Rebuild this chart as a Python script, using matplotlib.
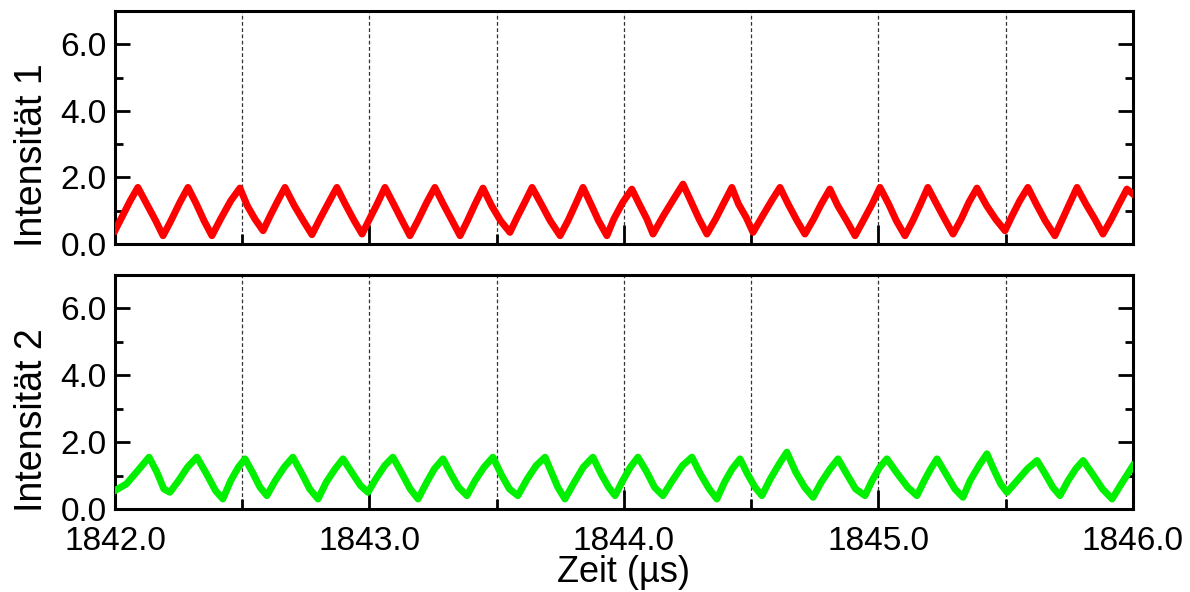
import numpy as np
import matplotlib
matplotlib.use("Agg")
from matplotlib import pyplot as plt
from matplotlib.ticker import MultipleLocator, FormatStrFormatter

plt.rcParams['font.family'] = ['Liberation Sans', 'DejaVu Sans']

# Zeitachse (µs) und Intensitäten
t_red = [
    1842.000, 1842.030, 1842.060, 1842.090, 1842.125, 1842.160, 1842.189,
    1842.220, 1842.255, 1842.287, 1842.320, 1842.350, 1842.381,
    1842.415, 1842.455, 1842.491, 1842.520, 1842.550, 1842.582,
    1842.610, 1842.640, 1842.668, 1842.705, 1842.740, 1842.774,
    1842.805, 1842.840, 1842.872, 1842.905, 1842.940, 1842.971,
    1843.000, 1843.030, 1843.061, 1843.095, 1843.125, 1843.159,
    1843.190, 1843.225, 1843.257, 1843.290, 1843.325, 1843.356,
    1843.385, 1843.415, 1843.446, 1843.480, 1843.515, 1843.552,
    1843.580, 1843.610, 1843.639, 1843.675, 1843.710, 1843.749,
    1843.780, 1843.810, 1843.839, 1843.870, 1843.900, 1843.933,
    1843.960, 1843.995, 1844.031, 1844.060, 1844.090, 1844.114,
    1844.155, 1844.195, 1844.232, 1844.265, 1844.295, 1844.326,
    1844.360, 1844.390, 1844.424, 1844.450, 1844.480, 1844.507,
    1844.545, 1844.580, 1844.613, 1844.645, 1844.680, 1844.711,
    1844.745, 1844.775, 1844.809, 1844.840, 1844.875, 1844.908,
    1844.940, 1844.975, 1845.006, 1845.040, 1845.070, 1845.104,
    1845.135, 1845.165, 1845.194, 1845.225, 1845.260, 1845.293,
    1845.325, 1845.355, 1845.387, 1845.425, 1845.460, 1845.497,
    1845.525, 1845.555, 1845.587, 1845.620, 1845.655, 1845.693,
    1845.720, 1845.750, 1845.780, 1845.815, 1845.850, 1845.882,
    1845.915, 1845.945, 1845.976, 1846.000]
i_red = [
    0.40, 0.85, 1.30, 1.70, 1.20, 0.70, 0.25,
    0.70, 1.25, 1.70, 1.20, 0.70, 0.25,
    0.75, 1.30, 1.68, 1.15, 0.75, 0.40,
    0.85, 1.30, 1.70, 1.15, 0.70, 0.28,
    0.75, 1.25, 1.70, 1.20, 0.70, 0.30,
    0.75, 1.20, 1.70, 1.20, 0.75, 0.25,
    0.70, 1.25, 1.70, 1.20, 0.70, 0.25,
    0.70, 1.20, 1.68, 1.15, 0.70, 0.35,
    0.80, 1.25, 1.70, 1.20, 0.70, 0.25,
    0.70, 1.20, 1.70, 1.20, 0.70, 0.25,
    0.75, 1.25, 1.65, 1.20, 0.75, 0.30,
    0.85, 1.35, 1.80, 1.25, 0.75, 0.30,
    0.75, 1.20, 1.70, 1.20, 0.80, 0.35,
    0.85, 1.30, 1.70, 1.20, 0.70, 0.30,
    0.75, 1.20, 1.65, 1.15, 0.70, 0.25,
    0.70, 1.20, 1.70, 1.20, 0.70, 0.25,
    0.70, 1.20, 1.70, 1.25, 0.75, 0.30,
    0.75, 1.25, 1.68, 1.15, 0.75, 0.40,
    0.85, 1.30, 1.70, 1.20, 0.70, 0.25,
    0.70, 1.20, 1.70, 1.20, 0.75, 0.30,
    0.75, 1.20, 1.65, 1.50]

t_green = [
    1842.000, 1842.045, 1842.090, 1842.134, 1842.165, 1842.192, 1842.216,
    1842.250, 1842.285, 1842.322, 1842.360, 1842.395, 1842.424,
    1842.455, 1842.485, 1842.511, 1842.540, 1842.570, 1842.597,
    1842.630, 1842.665, 1842.699, 1842.735, 1842.765, 1842.798,
    1842.830, 1842.865, 1842.896, 1842.930, 1842.965, 1842.994,
    1843.025, 1843.060, 1843.092, 1843.125, 1843.160, 1843.191,
    1843.225, 1843.255, 1843.289, 1843.320, 1843.350, 1843.383,
    1843.415, 1843.450, 1843.485, 1843.520, 1843.550, 1843.583,
    1843.620, 1843.655, 1843.690, 1843.715, 1843.740, 1843.768,
    1843.805, 1843.840, 1843.878, 1843.910, 1843.940, 1843.965,
    1843.995, 1844.025, 1844.055, 1844.090, 1844.120, 1844.153,
    1844.190, 1844.230, 1844.267, 1844.300, 1844.335, 1844.365,
    1844.395, 1844.425, 1844.456, 1844.485, 1844.515, 1844.542,
    1844.575, 1844.610, 1844.640, 1844.675, 1844.710, 1844.743,
    1844.775, 1844.810, 1844.841, 1844.875, 1844.910, 1844.947,
    1844.975, 1845.005, 1845.033, 1845.075, 1845.115, 1845.151,
    1845.180, 1845.205, 1845.230, 1845.265, 1845.300, 1845.332,
    1845.360, 1845.395, 1845.426, 1845.455, 1845.480, 1845.505,
    1845.545, 1845.585, 1845.623, 1845.655, 1845.685, 1845.713,
    1845.745, 1845.775, 1845.804, 1845.845, 1845.880, 1845.918,
    1845.950, 1845.975, 1846.000]
i_green = [
    0.55, 0.75, 1.15, 1.55, 1.10, 0.60, 0.50,
    0.85, 1.25, 1.55, 1.05, 0.55, 0.30,
    0.85, 1.25, 1.50, 1.10, 0.65, 0.40,
    0.85, 1.25, 1.55, 1.05, 0.60, 0.30,
    0.80, 1.20, 1.50, 1.10, 0.70, 0.50,
    0.90, 1.30, 1.55, 1.10, 0.60, 0.30,
    0.80, 1.20, 1.50, 1.05, 0.65, 0.40,
    0.85, 1.25, 1.55, 1.00, 0.60, 0.40,
    0.90, 1.30, 1.55, 1.10, 0.65, 0.30,
    0.80, 1.25, 1.55, 1.05, 0.65, 0.40,
    0.85, 1.25, 1.55, 1.10, 0.65, 0.40,
    0.85, 1.30, 1.55, 1.05, 0.60, 0.30,
    0.80, 1.20, 1.50, 1.05, 0.65, 0.40,
    0.90, 1.35, 1.70, 1.10, 0.65, 0.35,
    0.80, 1.20, 1.50, 1.05, 0.60, 0.40,
    0.85, 1.25, 1.50, 1.05, 0.65, 0.40,
    0.85, 1.20, 1.50, 1.05, 0.60, 0.35,
    0.85, 1.30, 1.65, 1.15, 0.75, 0.50,
    0.85, 1.20, 1.45, 1.05, 0.65, 0.40,
    0.85, 1.20, 1.45, 1.00, 0.60, 0.30,
    0.70, 1.00, 1.30]

xticks = [1842.0, 1843.0, 1844.0, 1845.0, 1846.0]
grid_x = [1842.5, 1843.0, 1843.5, 1844.0, 1844.5, 1845.0, 1845.5]
yticks = [0.0, 2.0, 4.0, 6.0]


def style_axis(ax, ylabel, show_xlabels):
    ax.set_xlim(1842.0, 1846.0)
    ax.set_ylim(0.0, 7.0)
    ax.set_xticks(xticks)
    ax.set_yticks(yticks)
    ax.xaxis.set_minor_locator(MultipleLocator(0.5))
    ax.yaxis.set_minor_locator(MultipleLocator(1.0))
    ax.yaxis.set_major_formatter(FormatStrFormatter('%.1f'))
    ax.xaxis.set_major_formatter(FormatStrFormatter('%.1f'))
    for sp in ax.spines.values():
        sp.set_linewidth(2.2)
    ax.tick_params(axis='y', which='major', direction='in', length=11, width=2,
                   left=True, right=True, labelsize=24, pad=6)
    ax.tick_params(axis='y', which='minor', direction='in', length=6, width=2,
                   left=True, right=True)
    ax.tick_params(axis='x', which='major', direction='in', length=13.5, width=2,
                   top=False, bottom=True, labelsize=24, pad=12,
                   labelbottom=show_xlabels)
    ax.tick_params(axis='x', which='minor', direction='in', length=7, width=2,
                   top=False, bottom=True)
    for lab in ax.get_yticklabels():
        lab.set_verticalalignment('center_baseline')
    for gx in grid_x:
        ax.axvline(gx, color='0.2', lw=0.9, ls=(0, (3, 2)), zorder=1)
    ax.set_ylabel(ylabel, fontsize=27)
    ax.yaxis.set_label_coords(-0.064, 0.38)


fig = plt.figure(figsize=(11.9, 5.92), dpi=100)
ax1 = fig.add_axes([0.0966, 0.5878, 0.8555, 0.3936])
ax2 = fig.add_axes([0.0966, 0.1402, 0.8555, 0.3953])

ax1.plot(t_red, i_red, color='#ff0000', lw=5, zorder=3, solid_joinstyle='round')
ax2.plot(t_green, i_green, color='#00f000', lw=5, zorder=3, solid_joinstyle='round')

style_axis(ax1, 'Intensität 1', False)
style_axis(ax2, 'Intensität 2', True)
ax2.set_xlabel('Zeit (µs)', fontsize=26, labelpad=-1)

fig.savefig('out.png', dpi=100)
